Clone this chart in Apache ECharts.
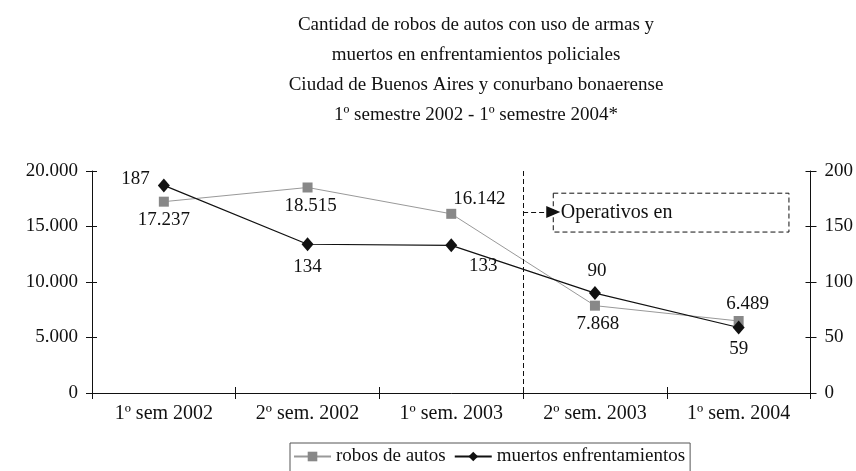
<!DOCTYPE html>
<html><head><meta charset="utf-8">
<script src="https://cdn.jsdelivr.net/npm/echarts@6/dist/echarts.min.js"></script>
<style>html,body{margin:0;padding:0;background:#fff}#c{width:856px;height:471px}</style>
</head><body><div id="c"></div>
<script>
var categories = ['1º sem 2002', '2º sem. 2002', '1º sem. 2003', '2º sem. 2003', '1º sem. 2004'];
var robos = [17237, 18515, 16142, 7868, 6489];
var muertos = [187, 134, 133, 90, 59];
var titleLines = ['Cantidad de robos de autos con uso de armas y', 'muertos en enfrentamientos policiales', 'Ciudad de Buenos Aires y conurbano bonaerense', '1º semestre 2002 - 1º semestre 2004*'];
var annotationText = 'Operativos en';

var FONT = 'Liberation Serif';
function fmt(v){ return String(v).replace(/\B(?=(\d{3})+(?!\d))/g, '.'); }

var roboLabel = [
  {position:'bottom', distance:4},
  {position:'bottom', distance:4, offset:[3,0]},
  {position:'top', distance:4, offset:[28,4]},
  {position:'bottom', distance:4, offset:[3,0]},
  {position:'top', distance:2, offset:[9,0]}
];
var muertoLabel = [
  {position:'left', distance:8, offset:[0,-6]},
  {position:'bottom', distance:6},
  {position:'bottom', distance:4, offset:[32,0]},
  {position:'top', distance:6, offset:[2,0]},
  {position:'bottom', distance:5}
];

var chart = echarts.init(document.getElementById('c'), null, {renderer:'canvas'});
var numTxt = {fontFamily: FONT, fontSize: 19, color: '#111'};
var wordTxt = {fontFamily: FONT, fontSize: 20, color: '#111'};
var option = {
  backgroundColor: '#fff',
  animation: false,
  title: {
    text: titleLines.join('\n'),
    left: 471, textAlign: 'center', top: 5,
    textStyle: {fontFamily: FONT, fontSize: 19, fontWeight: 'normal', color: '#111', lineHeight: 30}
  },
  legend: {
    data: ['robos de autos', 'muertos enfrentamientos'],
    left: 290, top: 443,
    padding: [4, 5, 12, 3],
    itemWidth: 37, itemHeight: 12, itemGap: 8,
    borderColor: '#555', borderWidth: 1,
    textStyle: {fontFamily: FONT, fontSize: 19, color: '#111'}
  },
  grid: {left: 92, right: 43, top: 171, bottom: 78},
  xAxis: [
    {type: 'category', data: categories, boundaryGap: true,
     axisLine: {onZero: false, lineStyle: {color: '#111', width: 1}},
     axisTick: {show: true, length: 6, lineStyle: {color: '#111'}},
     axisLabel: Object.assign({margin: 11}, wordTxt)},
    {type: 'value', min: -0.5, max: 4.5, show: false},
    {type: 'category', data: categories, boundaryGap: true, position: 'bottom',
     axisLine: {show: false, onZero: false}, axisLabel: {show: false},
     axisTick: {show: true, inside: true, length: 6, lineStyle: {color: '#111'}}}
  ],
  yAxis: [
    {type: 'value', min: 0, max: 20000, interval: 5000, position: 'left',
     splitLine: {show: false},
     axisLine: {show: true, onZero: false, lineStyle: {color: '#111'}},
     axisTick: {show: true, length: 6, lineStyle: {color: '#111'}},
     axisLabel: Object.assign({margin: 14, formatter: function(v){return fmt(v);}}, numTxt)},
    {type: 'value', min: 0, max: 200, interval: 50, position: 'right',
     splitLine: {show: false},
     axisLine: {show: true, onZero: false, lineStyle: {color: '#111'}},
     axisTick: {show: true, length: 6, lineStyle: {color: '#111'}},
     axisLabel: Object.assign({margin: 14}, numTxt)},
    {type: 'value', min: 0, max: 20000, interval: 5000, position: 'left',
     splitLine: {show: false}, axisLine: {show: false, onZero: false}, axisLabel: {show: false},
     axisTick: {show: true, inside: true, length: 5, lineStyle: {color: '#111'}}},
    {type: 'value', min: 0, max: 200, interval: 50, position: 'right',
     splitLine: {show: false}, axisLine: {show: false, onZero: false}, axisLabel: {show: false},
     axisTick: {show: true, inside: true, length: 5, lineStyle: {color: '#111'}}}
  ],
  series: [
    {name: 'robos de autos', type: 'line', xAxisIndex: 0, yAxisIndex: 0,
     symbol: 'rect', symbolSize: 10, z: 3,
     lineStyle: {color: '#999', width: 1}, itemStyle: {color: '#888'},
     label: Object.assign({show: true, formatter: function(p){return fmt(p.value);}}, numTxt),
     data: robos.map(function(v, i){ return {value: v, label: roboLabel[i]}; })},
    {name: 'muertos enfrentamientos', type: 'line', xAxisIndex: 0, yAxisIndex: 1,
     symbol: 'diamond', symbolSize: [12, 14], z: 4,
     lineStyle: {color: '#111', width: 1.2}, itemStyle: {color: '#111'},
     label: Object.assign({show: true}, numTxt),
     data: muertos.map(function(v, i){ return {value: v, label: muertoLabel[i]}; })},
    {name: 'annot', type: 'line', xAxisIndex: 1, yAxisIndex: 1, data: [], silent: true,
     markLine: {
       silent: true, symbol: ['none', 'none'],
       label: {show: false},
       lineStyle: {color: '#111', type: [5, 3], width: 1},
       data: [
         [{coord: [2.5, 200]}, {coord: [2.5, 0]}],
         [{coord: [2.5, 163], symbol: 'none'}, {coord: [2.71, 163], symbol: 'triangle', symbolSize: [12, 14]}]
       ]
     },
     markArea: {
       silent: true,
       itemStyle: {color: 'rgba(0,0,0,0)', borderColor: '#111', borderWidth: 1, borderType: [5, 3]},
       label: Object.assign({show: true, position: 'insideLeft', distance: 8}, wordTxt),
       data: [[{name: annotationText, coord: [2.71, 180]}, {coord: [4.35, 145]}]]
     }}
  ]
};
chart.setOption(option);
</script></body></html>
